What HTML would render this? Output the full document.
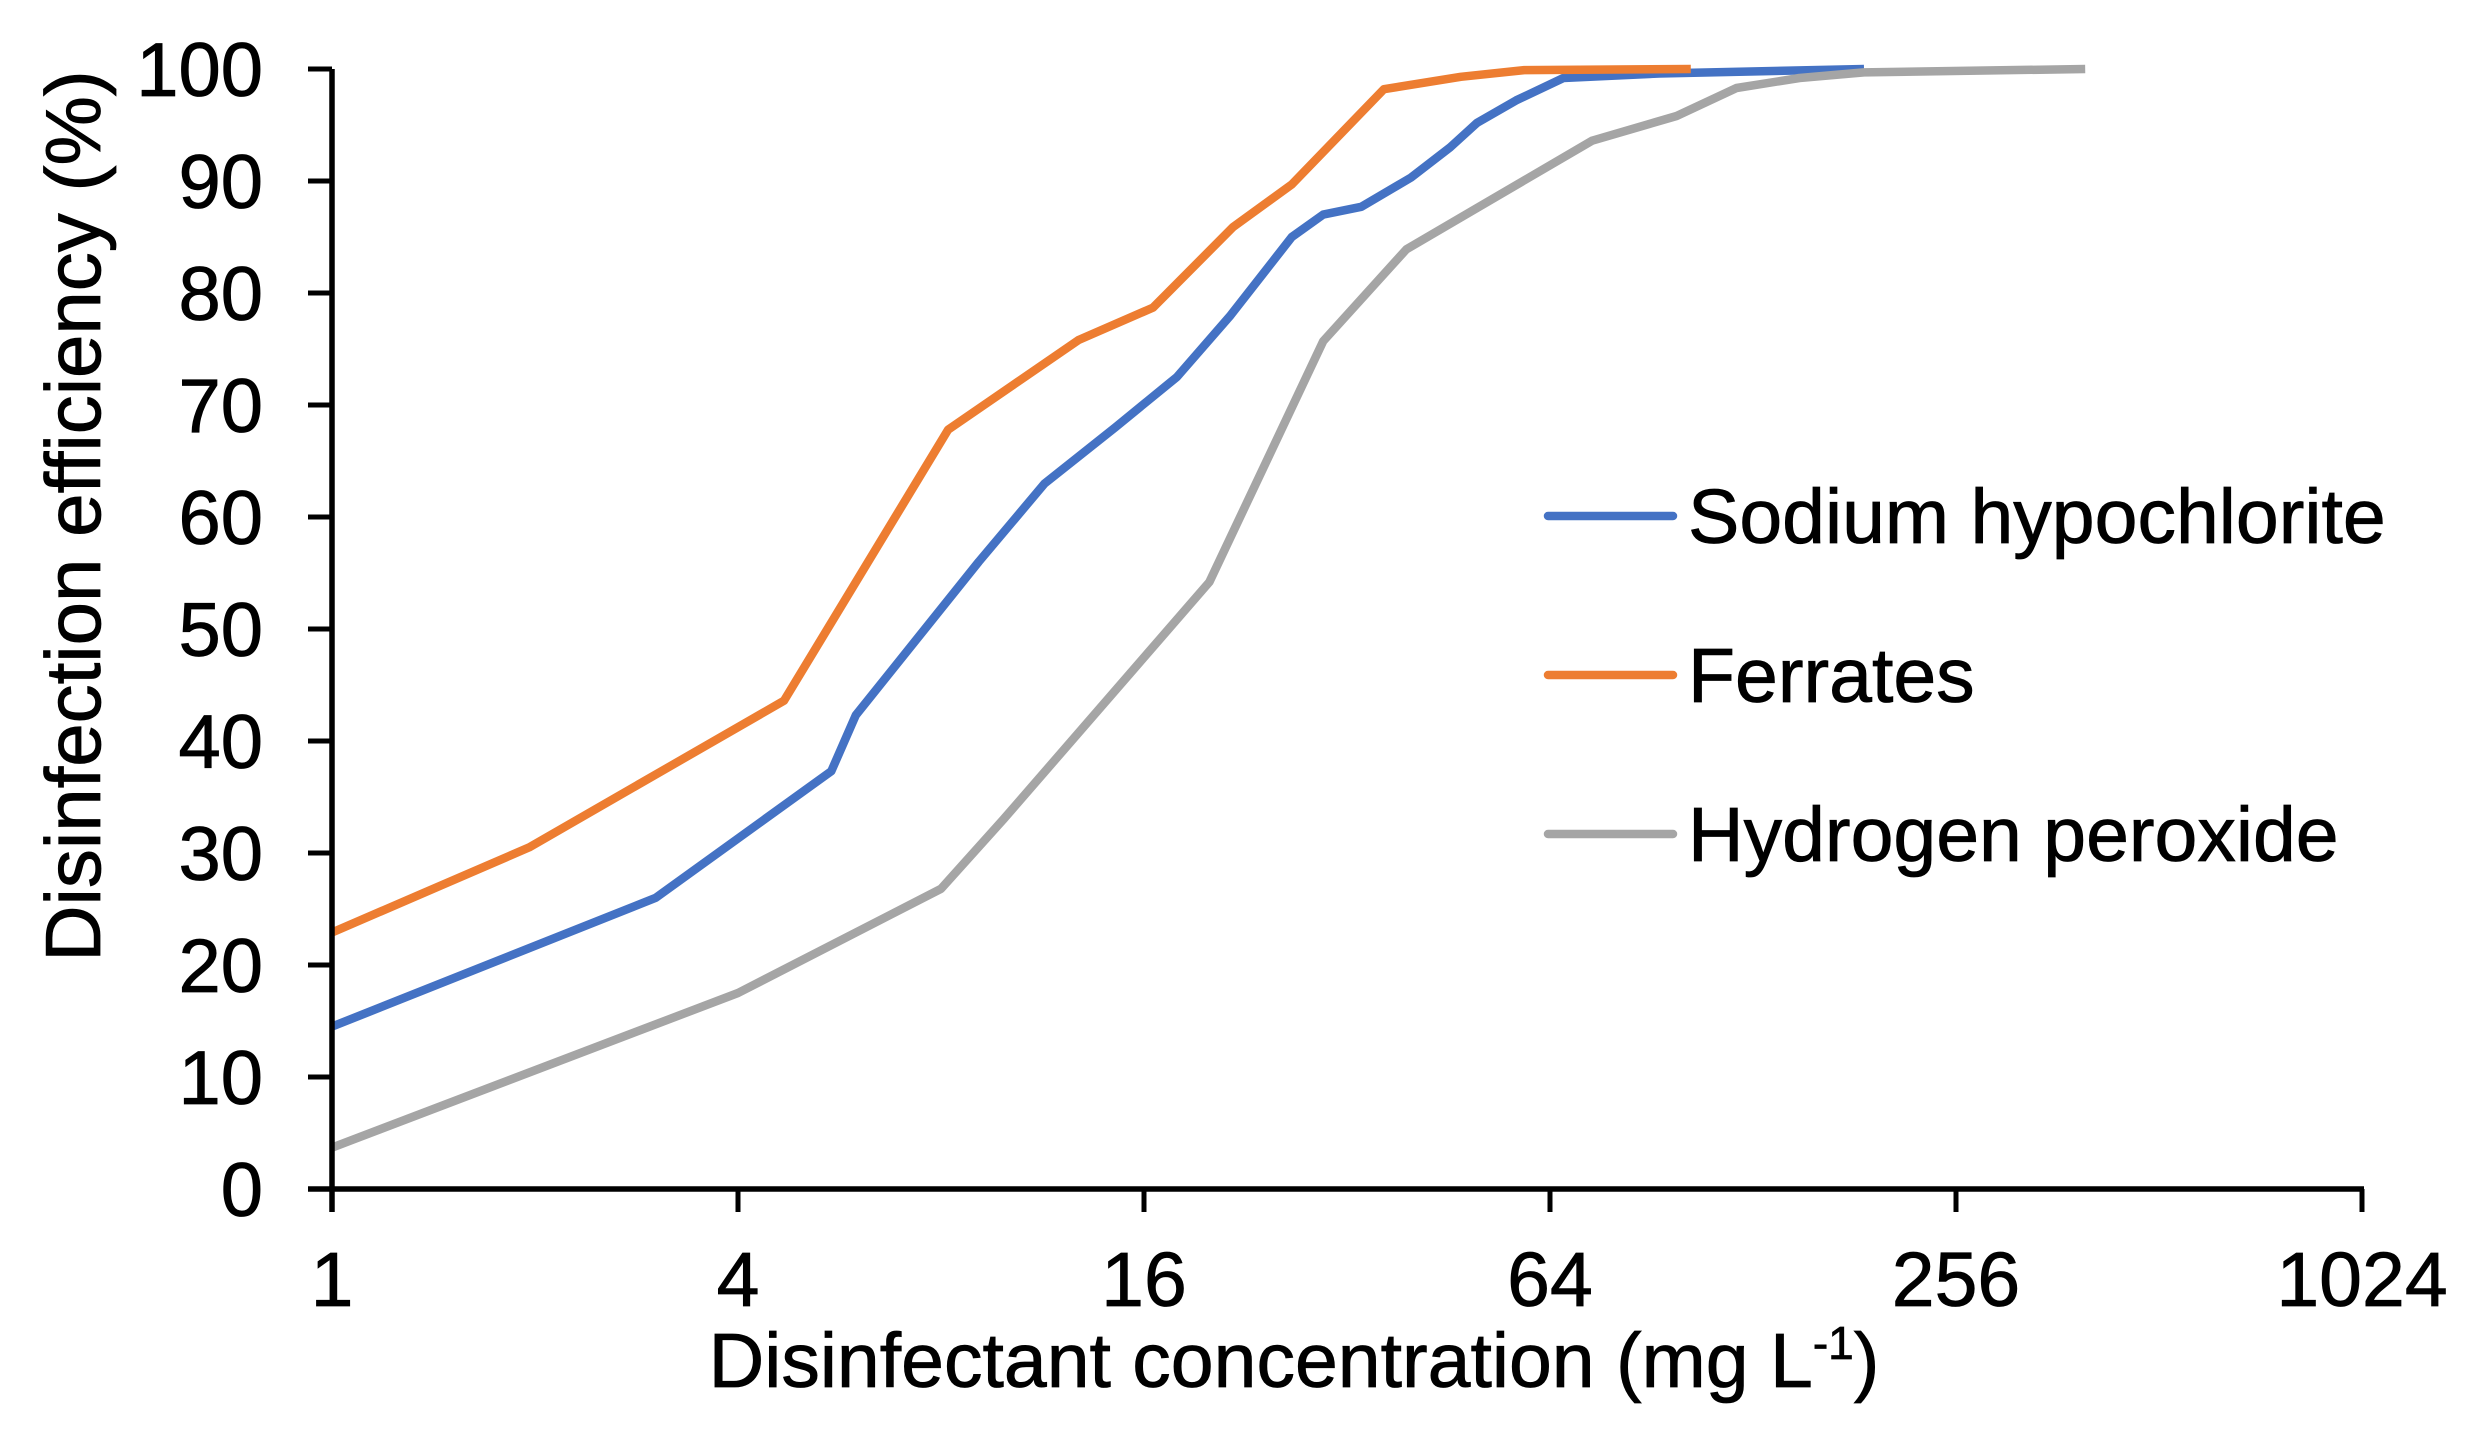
<!DOCTYPE html>
<html><head><meta charset="utf-8"><style>
html,body{margin:0;padding:0;background:#fff;}
svg{display:block;}
text{font-family:"Liberation Sans",Arial,sans-serif;fill:#000;}
</style></head><body>
<svg id="chart" width="2477" height="1431" viewBox="0 0 2477 1431" xmlns="http://www.w3.org/2000/svg">
<g id="grid"></g>
<g id="series"></g>
<g id="axes"></g>
<g id="legend"></g>
</svg>
<script>
const yTicks = [0,10,20,30,40,50,60,70,80,90,100];
const xTicks = [1,4,16,64,256,1024];
const seriesNames = ["Sodium hypochlorite","Ferrates","Hydrogen peroxide"];
const seriesColors = ["#4472C4","#ED7D31","#A5A5A5"];
const naclX = [1,3.02,5.5,5.98,9.1,11.4,14.5,17.9,21.5,26.5,29.5,33.6,39.8,45.5,49.9,57,67,93,187];
const naclY = [14.5,26,37.3,42.3,56,63,68,72.5,78,85,87,87.7,90.3,93,95.2,97.2,99.2,99.6,100];
const ferX = [1,1.96,4.68,8.2,12.8,16.5,21.7,26.5,36.3,47.2,58.6,103.5];
const ferY = [22.9,30.5,43.6,67.8,75.8,78.7,85.9,89.7,98.2,99.3,99.9,100];
const h2o2X = [1,4,8.0,9.9,20,29.5,39.2,49.9,73.9,98.6,121,150,187,398];
const h2o2Y = [3.7,17.5,26.8,33,54.2,75.7,83.9,87.6,93.6,95.8,98.3,99.2,99.7,100];

const NS="http://www.w3.org/2000/svg";
const X0=332, PER_DOUBLE=203, Y0=1189, PER_UNIT=11.2;
function xs(v){return X0+Math.log2(v)*PER_DOUBLE;}
function ys(v){return Y0-v*PER_UNIT;}
function mk(tag,attrs,parent){const e=document.createElementNS(NS,tag);for(const k in attrs)e.setAttribute(k,attrs[k]);parent.appendChild(e);return e;}

const series=document.getElementById('series');
const data=[[naclX,naclY],[ferX,ferY],[h2o2X,h2o2Y]];
const slugs=["sodium-hypochlorite","ferrates","hydrogen-peroxide"];
data.forEach((d,i)=>{
  const pts=d[0].map((x,j)=>xs(x).toFixed(1)+","+ys(d[1][j]).toFixed(1)).join(" ");
  const p=mk('polyline',{points:pts,fill:"none",stroke:seriesColors[i],"stroke-width":8.5,"stroke-linejoin":"round"},series);
  
  
});

const axes=document.getElementById('axes');
const ya=mk('line',{x1:X0,y1:ys(100),x2:X0,y2:Y0+23,stroke:"#000","stroke-width":5.5},axes);


const xa=mk('line',{x1:X0-24,y1:Y0,x2:xs(1024)+2,y2:Y0,stroke:"#000","stroke-width":5.5},axes);


yTicks.forEach(v=>{
  const t=mk('line',{x1:X0-24,y1:ys(v),x2:X0,y2:ys(v),stroke:"#000","stroke-width":5},axes);
  
  
  const l=mk('text',{x:263,y:ys(v)+27,"text-anchor":"end","font-size":76,stroke:"#000","stroke-width":0.8},axes);
  l.textContent=v;
  
  
});
xTicks.forEach(v=>{
  const t=mk('line',{x1:xs(v),y1:Y0,x2:xs(v),y2:Y0+23,stroke:"#000","stroke-width":5},axes);
  
  
  const l=mk('text',{x:xs(v),y:1306,"text-anchor":"middle","font-size":77,stroke:"#000","stroke-width":0.8},axes);
  l.textContent=v;
  
  
});
const xt=mk('text',{x:1294,y:1387,"text-anchor":"middle","font-size":77,stroke:"#000","stroke-width":0.8},axes);
xt.innerHTML='Disinfectant concentration (mg L<tspan dy="-28" font-size="46">-1</tspan><tspan dy="28">)</tspan>';


const yt=mk('text',{x:0,y:0,"text-anchor":"middle","font-size":78,stroke:"#000","stroke-width":0.8,transform:"translate(100,516) rotate(-90)"},axes);
yt.textContent='Disinfection efficiency (%)';



const legend=document.getElementById('legend');
seriesNames.forEach((n,i)=>{
  const g=mk('g',{},legend);
  
  
  const y=516+i*159;
  mk('line',{x1:1548,y1:y,x2:1673,y2:y,stroke:seriesColors[i],"stroke-width":8.5,"stroke-linecap":"round"},g);
  const t=mk('text',{x:1688,y:y+27,"font-size":77,stroke:"#000","stroke-width":0.8},g);
  t.textContent=n;
});
</script>
</body></html>
